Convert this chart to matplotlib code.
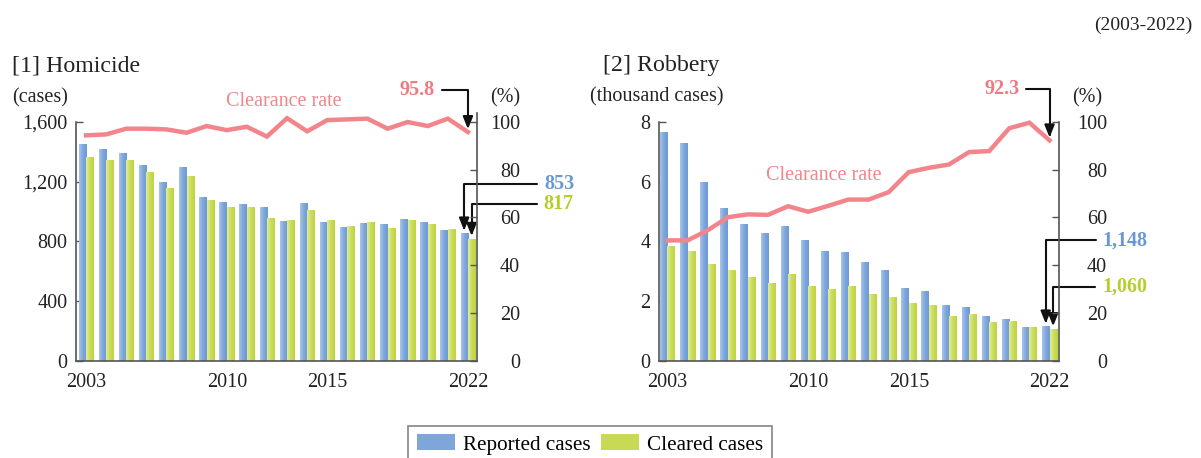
import numpy as np
import matplotlib
matplotlib.use("Agg")
import matplotlib.pyplot as plt
from matplotlib.colors import LinearSegmentedColormap
from matplotlib.patches import Patch

plt.rcParams['font.family'] = ['Liberation Serif', 'DejaVu Serif']

years = list(range(2003, 2023))
xtick_years = [2003, 2010, 2015, 2022]

hom_reported = [1452, 1419, 1392, 1309, 1199, 1297, 1097, 1067, 1051, 1030,
                939, 1054, 933, 895, 920, 915, 950, 929, 874, 853]
hom_cleared = [1365, 1345, 1345, 1266, 1156, 1235, 1074, 1027, 1027, 959,
               946, 1008, 941, 901, 928, 890, 941, 917, 881, 817]
hom_rate = [94.4, 94.8, 97.2, 97.2, 96.9, 95.5, 98.3, 96.6, 98.0, 93.9,
            101.6, 96.1, 100.8, 101.1, 101.4, 97.2, 100.0, 98.3, 101.4, 95.8]

rob_reported = [7.664, 7.295, 5.988, 5.108, 4.567, 4.278, 4.512, 4.029, 3.673, 3.658,
                3.324, 3.056, 2.426, 2.332, 1.852, 1.787, 1.511, 1.397, 1.138, 1.148]
rob_cleared = [3.86, 3.66, 3.25, 3.05, 2.79, 2.62, 2.91, 2.51, 2.40, 2.49,
               2.23, 2.15, 1.93, 1.87, 1.51, 1.56, 1.31, 1.34, 1.12, 1.060]
rob_rate = [50.4, 50.4, 54.6, 60.1, 61.3, 61.1, 64.7, 62.4, 64.9, 67.5,
            67.5, 70.6, 79.0, 80.8, 82.2, 87.4, 87.8, 97.4, 99.7, 92.3]

W, H = 1201, 458
fig = plt.figure(figsize=(W / 100, H / 100), dpi=100)

def fx(x):
    return x / W

def fy(y):
    return 1 - y / H

BLUE = '#7ea6da'
GREEN = '#c8da55'
PINK = '#f2858c'
PINK_TXT = '#ef7a82'
BLUE_TXT = '#6a98d4'
GREEN_TXT = '#b7cd2c'
FS = 14.5

blue_cmap = LinearSegmentedColormap.from_list('b', ['#a8c5ec', '#7ea6da', '#6e99d3'])
green_cmap = LinearSegmentedColormap.from_list('g', ['#e2ec9c', '#cbdc5c', '#bfd33e'])

def gradient_fill(ax, bars, cmap):
    grad = np.linspace(0, 1, 64).reshape(1, -1)
    for b in bars:
        x, y = b.get_xy()
        w, h = b.get_width(), b.get_height()
        im = ax.imshow(grad, extent=[x, x + w, y, y + h], cmap=cmap,
                       aspect='auto', zorder=2, interpolation='bilinear')
        im.set_clip_path(b)


def panel(rect, xlim, reported, cleared, rate, ylim, yticks, yticklabels,
          rpad, right_top):
    ax = fig.add_axes(rect)
    x = np.arange(len(years))
    b1 = ax.bar(x - 0.19, reported, width=0.36, color=BLUE, zorder=2, linewidth=0)
    b2 = ax.bar(x + 0.18, cleared, width=0.36, color=GREEN, zorder=2, linewidth=0)
    gradient_fill(ax, b1, blue_cmap)
    gradient_fill(ax, b2, green_cmap)
    ax.set_xlim(*xlim)
    ax.set_ylim(*ylim)
    ax.set_yticks(yticks)
    ax.set_yticklabels(yticklabels)
    ax.set_xticks([years.index(y) for y in xtick_years])
    ax.set_xticklabels([str(y) for y in xtick_years])
    for s in ['top', 'right']:
        ax.spines[s].set_visible(False)
    for s in ['left', 'bottom']:
        ax.spines[s].set_color('#555555')
        ax.spines[s].set_linewidth(1.2)
    ax.tick_params(axis='y', direction='in', length=5, width=1, color='#555555',
                   labelsize=FS, pad=6, labelcolor='#222222')
    ax.tick_params(axis='x', length=0, labelsize=FS, pad=9, labelcolor='#222222')

    ax2 = ax.twinx()
    ax2.set_ylim(0, 100)
    ax2.set_yticks([0, 20, 40, 60, 80, 100])
    ax2.plot(x, rate, color=PINK, lw=3.2, zorder=3, clip_on=False,
             solid_joinstyle='miter')
    for s in ['top', 'left', 'bottom']:
        ax2.spines[s].set_visible(False)
    ax2.spines['right'].set_color('#555555')
    ax2.spines['right'].set_linewidth(1.2)
    ax2.spines['right'].set_bounds(0, right_top)
    ax2.tick_params(axis='y', direction='in', length=5, width=1, color='#555555',
                    labelsize=FS, pad=rpad, labelcolor='#222222')
    for t in ax2.get_yticklabels():
        t.set_horizontalalignment('right')
    return ax, ax2, x


ax_h, ax2_h, xh = panel([fx(76), fy(360.7), fx(477) - fx(76), fy(122) - fy(360.7)],
                        (-0.5, 19.45), hom_reported, hom_cleared, hom_rate,
                        (0, 1600), [0, 400, 800, 1200, 1600],
                        ['0', '400', '800', '1,200', '1,600'], 31, 103.8)
ax_r, ax2_r, xr = panel([fx(659), fy(360.7), fx(1059) - fx(659), fy(122) - fy(360.7)],
                        (-0.42, 19.47), rob_reported, rob_cleared, rob_rate,
                        (0, 8), [0, 2, 4, 6, 8],
                        ['0', '2', '4', '6', '8'], 34.5, 100)

arrow = dict(arrowstyle='-|>,head_length=0.75,head_width=0.3',
             connectionstyle='angle,angleA=0,angleB=90,rad=0',
             color='#111111', lw=1.5, shrinkA=3, shrinkB=2, mutation_scale=10)

def note(ax, xy, text, offset, color, ha):
    ax.annotate(text, xy=xy, xytext=offset, textcoords='offset pixels',
                ha=ha, va='center', fontsize=FS, fontweight='bold', color=color,
                arrowprops=arrow, annotation_clip=False, zorder=5)

# Homicide annotations
note(ax2_h, (19, hom_rate[-1]), '95.8', (-33, 42), PINK_TXT, 'right')
note(ax_h, (19 - 0.19, hom_reported[-1]), '853', (80, 49), BLUE_TXT, 'left')
note(ax_h, (19 + 0.18, hom_cleared[-1]), '817', (72, 35), GREEN_TXT, 'left')

# Robbery annotations
note(ax2_r, (19, rob_rate[-1]), '92.3', (-30, 51), PINK_TXT, 'right')
note(ax_r, (19 - 0.19, rob_reported[-1]), '1,148', (57, 86), BLUE_TXT, 'left')
note(ax_r, (19 + 0.18, rob_cleared[-1]), '1,060', (49, 42), GREEN_TXT, 'left')

# Texts
fig.text(fx(1192), fy(25), '(2003-2022)', ha='right', va='center', fontsize=14, color='#222222')
fig.text(fx(12), fy(66), '[1] Homicide', ha='left', va='center', fontsize=17.2, color='#222222')
fig.text(fx(12), fy(98), '(cases)', ha='left', va='center', fontsize=FS, color='#222222')
fig.text(fx(505), fy(98), '(%)', ha='center', va='center', fontsize=FS, color='#222222')
fig.text(fx(226), fy(102), 'Clearance rate', ha='left', va='center', fontsize=FS, color=PINK)

fig.text(fx(603), fy(66), '[2] Robbery', ha='left', va='center', fontsize=17.2, color='#222222')
fig.text(fx(590), fy(97), '(thousand cases)', ha='left', va='center', fontsize=FS, color='#222222')
fig.text(fx(1087), fy(98), '(%)', ha='center', va='center', fontsize=FS, color='#222222')
fig.text(fx(766), fy(175), 'Clearance rate', ha='left', va='center', fontsize=FS, color=PINK)

handles = [Patch(facecolor=BLUE, edgecolor='none', label='Reported cases'),
           Patch(facecolor=GREEN, edgecolor='none', label='Cleared cases')]
leg = fig.legend(handles=handles, loc='upper center', bbox_to_anchor=(fx(590), fy(426)),
                 ncol=2, fontsize=15.2, frameon=True, fancybox=False,
                 handlelength=1.8, handleheight=0.75, handletextpad=0.4,
                 columnspacing=0.45, borderpad=0.4, borderaxespad=0)
leg.get_frame().set_edgecolor('#666666')
leg.get_frame().set_linewidth(1.2)

fig.savefig('out.png', dpi=100)
